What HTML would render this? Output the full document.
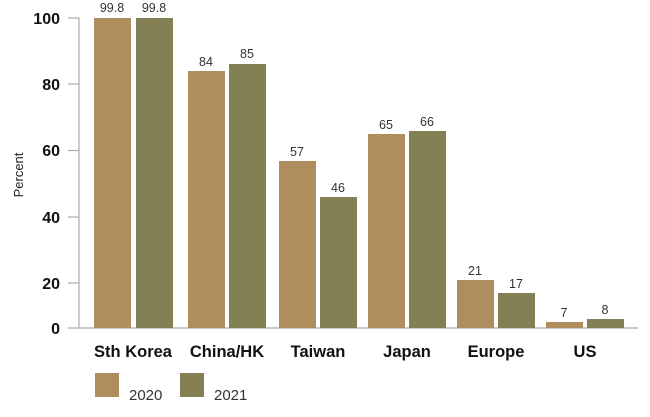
<!DOCTYPE html>
<html><head><meta charset="utf-8"><style>body{margin:0;background:#fff}svg{display:block}</style></head><body>
<svg width="650" height="417" viewBox="0 0 650 417" xmlns="http://www.w3.org/2000/svg" font-family="Liberation Sans, sans-serif">
<g stroke="#aaa" stroke-width="1.2">
<line x1="79" y1="18" x2="79" y2="328"/>
<line x1="68" y1="328" x2="638" y2="328"/>
<line x1="68" y1="18" x2="79" y2="18"/><line x1="68" y1="84" x2="79" y2="84"/><line x1="68" y1="150.5" x2="79" y2="150.5"/><line x1="68" y1="217" x2="79" y2="217"/><line x1="68" y1="283" x2="79" y2="283"/>
</g>
<g font-weight="bold" font-size="16" text-anchor="end" fill="#111">
<text x="60" y="24">100</text><text x="60" y="90">80</text><text x="60" y="156">60</text><text x="60" y="223">40</text><text x="60" y="289">20</text><text x="60" y="334">0</text>
</g>
<text transform="translate(23,175) rotate(-90)" text-anchor="middle" font-size="13" fill="#222">Percent</text>
<g fill="#b08d5e">
<rect x="94" y="18" width="37" height="310"/><rect x="188" y="71" width="37" height="257"/><rect x="279" y="161" width="37" height="167"/><rect x="368" y="134" width="37" height="194"/><rect x="457" y="280" width="37" height="48"/><rect x="546" y="322" width="37" height="6"/>
</g>
<g fill="#828054">
<rect x="136" y="18" width="37" height="310"/><rect x="229" y="64" width="37" height="264"/><rect x="320" y="197" width="37" height="131"/><rect x="409" y="131" width="37" height="197"/><rect x="498" y="293" width="37" height="35"/><rect x="587" y="319" width="37" height="9"/>
</g>
<g font-size="12.5" text-anchor="middle" fill="#333">
<text x="112" y="12">99.8</text><text x="154" y="12">99.8</text>
<text x="206" y="66">84</text><text x="247" y="58">85</text>
<text x="297" y="156">57</text><text x="338" y="192">46</text>
<text x="386" y="129">65</text><text x="427" y="126">66</text>
<text x="475" y="275">21</text><text x="516" y="288">17</text>
<text x="564" y="317">7</text><text x="605" y="314">8</text>
</g>
<g font-size="16.5" font-weight="bold" text-anchor="middle" fill="#111">
<text x="133" y="357">Sth Korea</text><text x="227" y="357">China/HK</text><text x="318" y="357">Taiwan</text><text x="407" y="357">Japan</text><text x="496" y="357">Europe</text><text x="585" y="357">US</text>
</g>
<rect x="95" y="373" width="24" height="24" fill="#b08d5e"/>
<rect x="180" y="373" width="24" height="24" fill="#828054"/>
<g font-size="15" fill="#333"><text x="129" y="400">2020</text><text x="214" y="400">2021</text></g>
</svg>
</body></html>
